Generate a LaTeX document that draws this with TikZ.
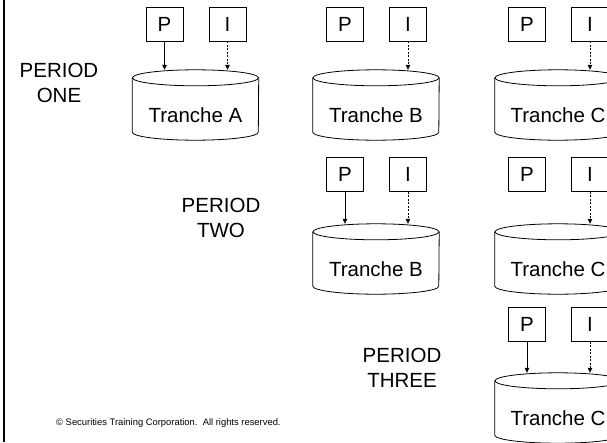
\documentclass[tikz,border=0pt]{standalone}
\usepackage{fontspec}
\setmainfont{Liberation Sans}
\usetikzlibrary{arrows.meta}
\tikzset{
  bigtext/.style={font=\fontsize{20.5}{24.6}\selectfont},
  flowbox/.style={draw, bigtext, line width=0.8pt, minimum width=37pt, minimum height=34pt, inner sep=0pt},
  drumbox/.style={minimum width=126pt, minimum height=70pt, inner sep=0pt},
  drumline/.style={line width=0.8pt},
  drumlabel/.style={bigtext, inner sep=0pt},
  periodlabel/.style={bigtext, align=center, inner sep=0pt},
  paymentflow/.style={line width=0.7pt, -{Triangle[length=5pt,width=4.5pt]}},
  interestflow/.style={line width=0.7pt, dash pattern=on 2pt off 1.5pt, -{Triangle[length=5pt,width=4.5pt]}},
}
% draw a drum (cylinder) over an invisible rectangle node
\newcommand\drawdrum[1]{%
  \draw[drumline] ([yshift=-8pt]#1.north) ellipse [x radius=63pt, y radius=8pt];
  \draw[drumline] ([yshift=-8pt]#1.north west) -- ([yshift=8pt]#1.south west)
    arc[start angle=180, end angle=360, x radius=63pt, y radius=8pt]
    -- ([yshift=-8pt]#1.north east);
}
\begin{document}
\begin{tikzpicture}[x=1pt,y=-1pt]
\useasboundingbox (0,0) rectangle (607,442);
\clip (0,0) rectangle (607,442);

% left rule
\draw[line width=2pt] (3.5,0) -- (3.5,442);

% period labels
\node[periodlabel] (per1) at (59,83) {PERIOD\\ONE};
\node[periodlabel] (per2) at (221,218) {PERIOD\\TWO};
\node[periodlabel] (per3) at (402,368) {PERIOD\\THREE};

% ---- period one ----
\node[drumbox] (dA1) at (195.5,105) {};
\node[drumbox] (dB1) at (376,105) {};
\node[drumbox] (dC1) at (558,105) {};
\drawdrum{dA1}\drawdrum{dB1}\drawdrum{dC1}
\node[drumlabel] (lA1) at ([yshift=-10pt]dA1.center) {Tranche A};
\node[drumlabel] (lB1) at ([yshift=-10pt]dB1.center) {Tranche B};
\node[drumlabel] (lC1) at ([yshift=-10pt]dC1.center) {Tranche C};

\node[flowbox] (pA1) at (164.5,24) {P};
\node[flowbox] (iA1) at (227.5,24) {I};
\node[flowbox] (pB1) at (345,24) {P};
\node[flowbox] (iB1) at (408,24) {I};
\node[flowbox] (pC1) at (527,24) {P};
\node[flowbox] (iC1) at (590,24) {I};

\draw[paymentflow] (pA1) -- (pA1 |- dA1.north);
\draw[interestflow] (iA1) -- (iA1 |- dA1.north);
\draw[interestflow] (iB1) -- (iB1 |- dB1.north);
\draw[interestflow] (iC1) -- (iC1 |- dC1.north);

% ---- period two ----
\node[drumbox] (dB2) at (376,259) {};
\node[drumbox] (dC2) at (558,259) {};
\drawdrum{dB2}\drawdrum{dC2}
\node[drumlabel] (lB2) at ([yshift=-10pt]dB2.center) {Tranche B};
\node[drumlabel] (lC2) at ([yshift=-10pt]dC2.center) {Tranche C};

\node[flowbox] (pB2) at (345,174.5) {P};
\node[flowbox] (iB2) at (408,174.5) {I};
\node[flowbox] (pC2) at (527,174.5) {P};
\node[flowbox] (iC2) at (590,174.5) {I};

\draw[paymentflow] (pB2) -- (pB2 |- dB2.north);
\draw[interestflow] (iB2) -- (iB2 |- dB2.north);
\draw[interestflow] (iC2) -- (iC2 |- dC2.north);

% ---- period three ----
\node[drumbox] (dC3) at (558,408) {};
\drawdrum{dC3}
\node[drumlabel] (lC3) at ([yshift=-10pt]dC3.center) {Tranche C};

\node[flowbox] (pC3) at (527,324.5) {P};
\node[flowbox] (iC3) at (590,324.5) {I};

\draw[paymentflow] (pC3) -- (pC3 |- dC3.north);
\draw[interestflow] (iC3) -- (iC3 |- dC3.north);

% footer
\node[anchor=west, inner sep=0pt, font=\fontsize{9.4}{11}\selectfont] (copy) at (56,423)
  {\textcopyright\ Securities Training Corporation.\ \ All rights reserved.};
\end{tikzpicture}
\end{document}
